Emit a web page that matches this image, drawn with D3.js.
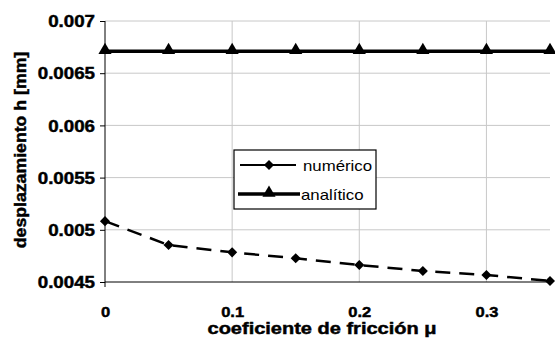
<!DOCTYPE html>
<html>
<head>
<meta charset="utf-8">
<script src="https://cdn.jsdelivr.net/npm/d3@7"></script>
<style>
  body { margin: 0; background: #fff; }
  svg { display: block; }
</style>
</head>
<body>
<div id="chart"></div>
<script>
const friccion = [0, 0.05, 0.1, 0.15, 0.2, 0.25, 0.3, 0.35];
const numerico = [0.005083, 0.004854, 0.004784, 0.004727, 0.004663, 0.004605, 0.004567, 0.00451];
const analitico = [0.00671, 0.00671, 0.00671, 0.00671, 0.00671, 0.00671, 0.00671, 0.00671];
const yTicks = [0.0045, 0.005, 0.0055, 0.006, 0.0065, 0.007];
const xTicks = [0, 0.1, 0.2, 0.3];

const width = 555, height = 344;
const margin = { top: 21, right: 5, bottom: 62, left: 105 };
const innerHeight = height - margin.top - margin.bottom;

const svg = d3.select('#chart').append('svg')
  .attr('width', width).attr('height', height);
const g = svg.append('g').attr('transform', `translate(${margin.left},${margin.top})`);

const x = d3.scaleLinear().domain([0, 0.35]).range([0, 445]);
const y = d3.scaleLinear().domain([0.0045, 0.007]).range([innerHeight, 0]);

const font = 'Liberation Sans, Arial, sans-serif';

// the source picture has its text a bit wider and heavier than the font
function stretch(sel, f) {
  sel.each(function () {
    const len = this.getComputedTextLength();
    d3.select(this).attr('textLength', len * f).attr('lengthAdjust', 'spacingAndGlyphs');
  });
}
function heavy(sel) {
  sel.attr('stroke', '#000').attr('stroke-width', 0.45);
}

// grid
g.append('g').selectAll('line').data(yTicks.slice(1)).enter().append('line')
  .attr('x1', 0).attr('x2', x(0.35)).attr('y1', d => y(d)).attr('y2', d => y(d))
  .attr('stroke', '#c8c8c8').attr('stroke-width', 1);
g.append('g').selectAll('line').data(xTicks.slice(1)).enter().append('line')
  .attr('x1', d => x(d)).attr('x2', d => x(d)).attr('y1', 0).attr('y2', innerHeight)
  .attr('stroke', '#c8c8c8').attr('stroke-width', 1);

// axes
const yAxis = g.append('g').call(d3.axisLeft(y).tickValues(yTicks).tickSize(5).tickPadding(5).tickFormat(d => String(+d.toFixed(4))));
yAxis.select('.domain').attr('d', `M0,0V${innerHeight + 5}`).attr('stroke', '#000');
yAxis.selectAll('text').attr('font-family', font).attr('font-weight', 'bold').attr('font-size', 16)
  .attr('fill', '#000').attr('dy', '0.36em');
stretch(yAxis.selectAll('text'), 1.17);
heavy(yAxis.selectAll('text'));

const xAxis = g.append('g').attr('transform', `translate(0,${innerHeight})`)
  .call(d3.axisBottom(x).tickValues(xTicks).tickSize(0).tickPadding(24).tickFormat(d => String(d)));
xAxis.select('.domain').attr('d', `M0,0H${x(0.35)}`).attr('stroke', '#000');
xAxis.selectAll('text').attr('font-family', font).attr('font-weight', 'bold').attr('font-size', 15).attr('fill', '#000');
stretch(xAxis.selectAll('text'), 1.1);
heavy(xAxis.selectAll('text'));

// lines
const line = d3.line().x((d, i) => x(friccion[i])).y(d => y(d));
g.append('path').datum(numerico).attr('d', line).attr('fill', 'none')
  .attr('stroke', '#000').attr('stroke-width', 2.5).attr('stroke-dasharray', '15,9');
g.append('path').datum(analitico).attr('d', line).attr('fill', 'none')
  .attr('stroke', '#000').attr('stroke-width', 3.5);

const diamond = d3.symbol().type(d3.symbolDiamond2).size(65);
const triangle = d3.symbol().type(d3.symbolTriangle).size(75);

g.append('g').selectAll('path').data(numerico).enter().append('path')
  .attr('d', diamond).attr('transform', (d, i) => `translate(${x(friccion[i])},${y(d)})`).attr('fill', '#000');
g.append('g').selectAll('path').data(analitico).enter().append('path')
  .attr('d', triangle).attr('transform', (d, i) => `translate(${x(friccion[i])},${y(d) - 1})`).attr('fill', '#000');

// axis titles
const xTitle = svg.append('text').attr('x', 322).attr('y', 334).attr('text-anchor', 'middle')
  .attr('font-family', font).attr('font-weight', 'bold').attr('font-size', 16)
  .text('coeficiente de fricción μ');
stretch(xTitle, 1.25);
heavy(xTitle);
const yTitle = svg.append('text').attr('transform', 'translate(26,150) rotate(-90)').attr('text-anchor', 'middle')
  .attr('font-family', font).attr('font-weight', 'bold').attr('font-size', 17)
  .text('desplazamiento h [mm]');
stretch(yTitle, 1.04);
heavy(yTitle);

// legend
const leg = svg.append('g').attr('transform', 'translate(234,150)');
leg.append('rect').attr('width', 142).attr('height', 59).attr('fill', '#fff').attr('stroke', '#000').attr('stroke-width', 1.2);
leg.append('line').attr('x1', 6).attr('x2', 62).attr('y1', 15).attr('y2', 15).attr('stroke', '#000').attr('stroke-width', 2.2);
leg.append('path').attr('d', diamond).attr('transform', 'translate(35,15)');
leg.append('line').attr('x1', 4).attr('x2', 66).attr('y1', 44).attr('y2', 44).attr('stroke', '#000').attr('stroke-width', 3.5);
leg.append('path').attr('d', triangle).attr('transform', 'translate(35,43)');
const legText = leg.selectAll('text.lbl').data(['numérico', 'analítico']).enter().append('text')
  .attr('x', (d, i) => i ? 67 : 69).attr('y', (d, i) => i ? 50 : 21)
  .attr('font-family', font).attr('font-size', 15).text(d => d);
stretch(legText, 1.12);
</script>
</body>
</html>
